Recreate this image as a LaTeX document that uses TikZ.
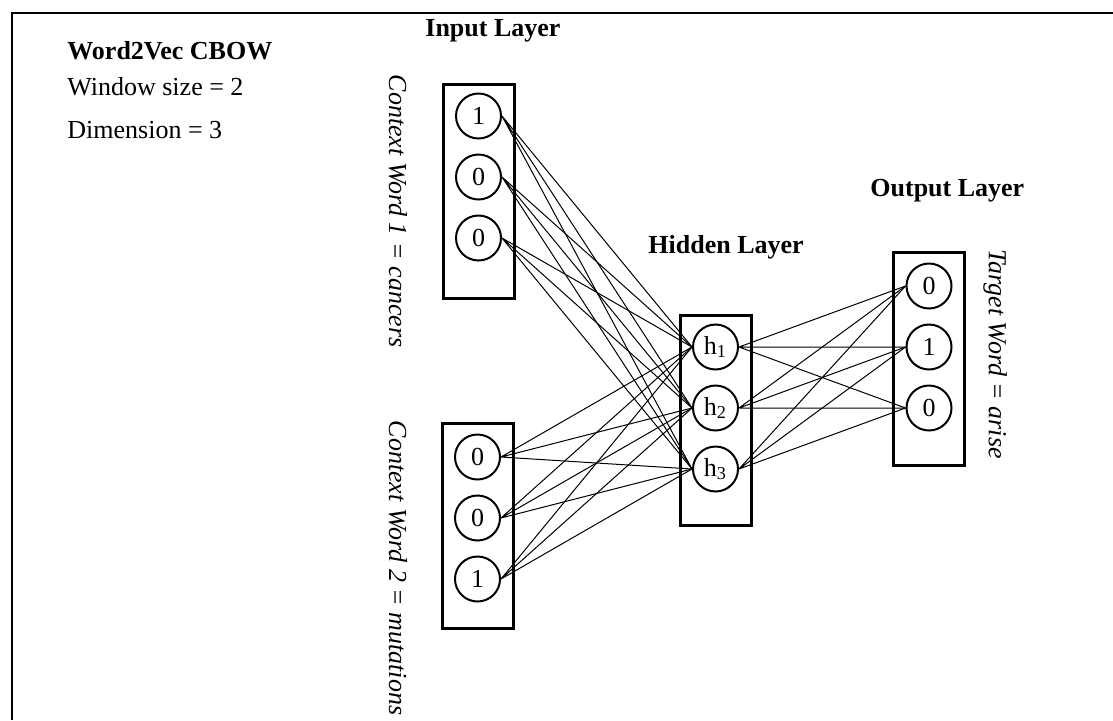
\documentclass[tikz,border=0pt]{standalone}
\usepackage{fontspec}
\setmainfont{Liberation Serif}
\usetikzlibrary{positioning}

\begin{document}
\begin{tikzpicture}[x=0.5pt, y=-0.5pt,
	font=\fontsize{13}{15}\selectfont,
	layer/.style={draw, line width=1.5pt, rectangle, minimum width=35.5pt, inner sep=0pt},
	unit/.style={draw, line width=1pt, circle, minimum size=22.5pt, inner sep=0pt},
	heading/.style={font=\fontsize{13}{15}\selectfont\bfseries, anchor=base west, inner sep=0pt},
	note/.style={anchor=base west, inner sep=0pt},
	word/.style={font=\fontsize{13}{15}\selectfont\itshape, rotate=-90},
	link/.style={line width=0.5pt},
	node distance=7pt]
	\useasboundingbox (0,0) rectangle (1113,720);
	% frame
	\draw[line width=1pt] (11.5,720) -- (11.5,12.5) -- (1113,12.5);

	\node[heading] (cbow) at (67,59) {Word2Vec CBOW};
	\node[note] (window) at (67,95) {Window size = 2};
	\node[note] (dim) at (67,138) {Dimension = 3};

	\node[heading] (input) at (425,36) {Input Layer};
	\node[heading] (hiddentitle) at (648,253) {Hidden Layer};
	\node[heading] (outputtitle) at (870,196) {Output Layer};

	% input layer, first context word
	\node[layer, minimum height=107pt] (cancers) at (478.5,191) {};
	\node[unit] (ca1) [below=5pt of cancers.north] {1};
	\node[unit] (ca2) [below=of ca1] {0};
	\node[unit] (ca3) [below=of ca2] {0};
	\node[word] (ctx1) at (398,211) {Context Word 1 = cancers};

	% input layer, second context word
	\node[layer, minimum height=102.5pt] (mutations) at (477.5,525.5) {};
	\node[unit] (mu1) [below=6pt of mutations.north] {0};
	\node[unit] (mu2) [below=of mu1] {0};
	\node[unit] (mu3) [below=of mu2] {1};
	\node[word] (ctx2) at (398,568) {Context Word 2 = mutations};

	% hidden layer
	\node[layer, minimum height=105pt] (hidden) at (715.5,420) {};
	\node[unit] (h1) [below=5pt of hidden.north] {h\textsubscript{1}};
	\node[unit] (h2) [below=of h1] {h\textsubscript{2}};
	\node[unit] (h3) [below=of h2] {h\textsubscript{3}};

	% output layer
	\node[layer, minimum height=106.5pt] (arise) at (929,358.5) {};
	\node[unit] (ar1) [below=6pt of arise.north] {0};
	\node[unit] (ar2) [below=of ar1] {1};
	\node[unit] (ar3) [below=of ar2] {0};
	\node[word] (target) at (995,354) {Target Word = arise};

	\draw[link] (ca1.east) -- (h1.west) (ca1.east) -- (h2.west) (ca1.east) -- (h3.west);
	\draw[link] (ca2.east) -- (h1.west) (ca2.east) -- (h2.west) (ca2.east) -- (h3.west);
	\draw[link] (ca3.east) -- (h1.west) (ca3.east) -- (h2.west) (ca3.east) -- (h3.west);
	\draw[link] (mu1.east) -- (h1.west) (mu1.east) -- (h2.west) (mu1.east) -- (h3.west);
	\draw[link] (mu2.east) -- (h1.west) (mu2.east) -- (h2.west) (mu2.east) -- (h3.west);
	\draw[link] (mu3.east) -- (h1.west) (mu3.east) -- (h2.west) (mu3.east) -- (h3.west);
	\draw[link] (h1.east) -- (ar1.west) (h1.east) -- (ar2.west) (h1.east) -- (ar3.west);
	\draw[link] (h2.east) -- (ar1.west) (h2.east) -- (ar2.west) (h2.east) -- (ar3.west);
	\draw[link] (h3.east) -- (ar1.west) (h3.east) -- (ar2.west) (h3.east) -- (ar3.west);
\end{tikzpicture}
\end{document}
